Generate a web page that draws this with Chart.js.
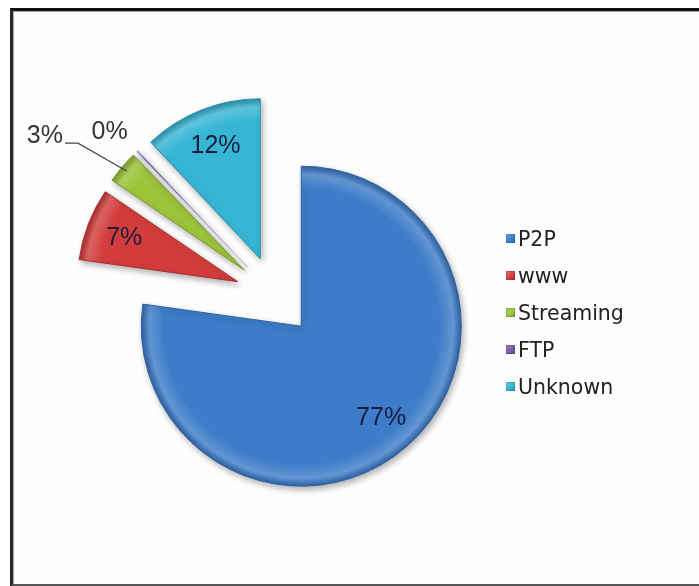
<!DOCTYPE html>
<html>
<head>
<meta charset="utf-8">
<script src="https://cdn.jsdelivr.net/npm/chart.js@4.4.1/dist/chart.umd.min.js"></script>
<style>
  html, body { margin: 0; padding: 0; background: #fff; overflow: hidden; width: 699px; height: 586px; }
  #frame {
    position: absolute; left: 10px; top: 8px; width: 720px; height: 573px;
    border-top: 3px solid #111; border-left: 3px solid #2a2a2a; border-bottom: 3px solid #555;
    box-shadow: inset 1px 1px 0 #aaa; background: #fdfdfd;
  }
  #wrap { position: absolute; left: 0; top: 0; width: 699px; height: 586px; }
  #legend {
    position: absolute; left: 506px; top: 220px; margin: 0; padding: 0; list-style: none;
    font: 20.5px "DejaVu Sans", Verdana, sans-serif; color: #222;
  }
  #legend li { height: 37px; display: flex; align-items: center; white-space: nowrap; }
  #legend .box { width: 9px; height: 9px; margin-right: 3px; box-shadow: inset 0 0 0 1px rgba(0,0,0,0.15); }
</style>
</head>
<body>
<div id="frame"></div>
<div id="wrap"><canvas id="pieGraph" width="699" height="586"></canvas></div>
<ul id="legend"></ul>
<script>
var labels = ['P2P', 'www', 'Streaming', 'FTP', 'Unknown'];
var values = [77.2, 7.3, 3.3, 0.2, 12.0];
var colors = ['#3d7cc9', '#d33c3c', '#9dc33b', '#7d56a6', '#36b5d5'];
var edgeColors = ['#2f62a3', '#a82c2c', '#7a9a2c', '#b8b8c8', '#2a8fa9'];

// shades each slice a little lighter towards its rim
function sliceFill(context) {
  var i = context.dataIndex;
  var area = context.chart.chartArea;
  if (!area) return colors[i];
  var cx = (area.left + area.right) / 2, cy = (area.top + area.bottom) / 2;
  var g = context.chart.ctx.createRadialGradient(cx, cy, 0, cx, cy, 160);
  g.addColorStop(0, colors[i]);
  g.addColorStop(0.86, colors[i]);
  g.addColorStop(0.95, Chart.helpers.color(colors[i]).lighten(0.18).rgbString());
  g.addColorStop(1, edgeColors[i]);
  return g;
}

// every slice pulled out from the centre by the same distance
var explodePie = {
  id: 'explodePie',
  beforeDatasetDraw: function(chart, args, opts) {
    var ctx = chart.ctx;
    args.meta.data.forEach(function(arc) {
      var mid = (arc.startAngle + arc.endAngle) / 2;
      ctx.save();
      ctx.shadowColor = 'rgba(0,0,0,0.3)';
      ctx.shadowBlur = 6;
      ctx.shadowOffsetX = 2;
      ctx.shadowOffsetY = 3;
      ctx.translate(Math.cos(mid) * opts.distance, Math.sin(mid) * opts.distance);
      arc.draw(ctx);
      ctx.restore();
    });
    return false;
  }
};

// percentage labels, inside the slice or pulled out with a leader line
var sliceLabels = {
  id: 'sliceLabels',
  afterDatasetsDraw: function(chart, args, opts) {
    var ctx = chart.ctx;
    var meta = chart.getDatasetMeta(0);
    var dist = chart.options.plugins.explodePie.distance;
    var data = chart.data.datasets[0].data;
    var total = data.reduce(function(a, b) { return a + b; }, 0);
    ctx.save();
    ctx.font = '25px "Liberation Sans", Arial, sans-serif';
    meta.data.forEach(function(arc, i) {
      var mid = (arc.startAngle + arc.endAngle) / 2;
      var cos = Math.cos(mid), sin = Math.sin(mid);
      var cx = arc.x + cos * dist, cy = arc.y + sin * dist;
      var r = arc.outerRadius;
      var text = Math.round(data[i] / total * 100) + '%';
      var c = opts.callouts[i];
      if (!c) {
        ctx.fillStyle = '#1c1c3c';
        ctx.textAlign = 'center';
        ctx.textBaseline = 'middle';
        ctx.fillText(text, cx + cos * r * opts.inside, cy + sin * r * opts.inside);
        return;
      }
      var ax = cx + cos * r * 0.96, ay = cy + sin * r * 0.96;
      var ex = ax + c.dx, ey = ay + c.dy;
      ctx.fillStyle = '#333';
      if (c.line) {
        ctx.strokeStyle = '#444';
        ctx.lineWidth = 1.2;
        ctx.beginPath();
        ctx.moveTo(ax, ay);
        ctx.lineTo(ex, ey);
        ctx.lineTo(ex - 13, ey);
        ctx.stroke();
        ctx.textAlign = 'right';
        ctx.textBaseline = 'alphabetic';
        ctx.fillText(text, ex - 15, ey);
      } else {
        ctx.textAlign = 'center';
        ctx.textBaseline = 'middle';
        ctx.fillText(text, ex, ey);
      }
    });
    ctx.restore();
  }
};

// legend built as html from the chart's own legend items
var htmlLegend = {
  id: 'htmlLegend',
  afterUpdate: function(chart) {
    var ul = document.getElementById('legend');
    ul.innerHTML = '';
    var items = chart.options.plugins.legend.labels.generateLabels(chart);
    items.forEach(function(item, i) {
      var li = document.createElement('li');
      var box = document.createElement('span');
      box.className = 'box';
      box.style.background = 'linear-gradient(135deg, ' +
        Chart.helpers.color(colors[i]).lighten(0.25).rgbString() + ', ' + colors[i] + ' 60%, ' +
        Chart.helpers.color(colors[i]).darken(0.2).rgbString() + ')';
      var txt = document.createElement('span');
      txt.textContent = item.text;
      li.appendChild(box);
      li.appendChild(txt);
      ul.appendChild(li);
    });
  }
};

var ctx = document.getElementById('pieGraph').getContext('2d');
var chart = new Chart(ctx, {
  type: 'pie',
  data: {
    labels: labels,
    datasets: [{
      data: values,
      backgroundColor: sliceFill,
      borderColor: edgeColors,
      borderWidth: 1
    }]
  },
  options: {
    responsive: false,
    maintainAspectRatio: false,
    animation: false,
    radius: 160,
    layout: { padding: { left: 35, right: 184, top: 56, bottom: 50 } },
    plugins: {
      legend: { display: false },
      tooltip: { enabled: false },
      explodePie: { distance: 40 },
      sliceLabels: {
        inside: 0.76,
        callouts: [null, null, { dx: -49, dy: -28, line: true }, { dx: -32, dy: -24 }, null]
      }
    }
  },
  plugins: [explodePie, sliceLabels, htmlLegend]
});
</script>
</body>
</html>
